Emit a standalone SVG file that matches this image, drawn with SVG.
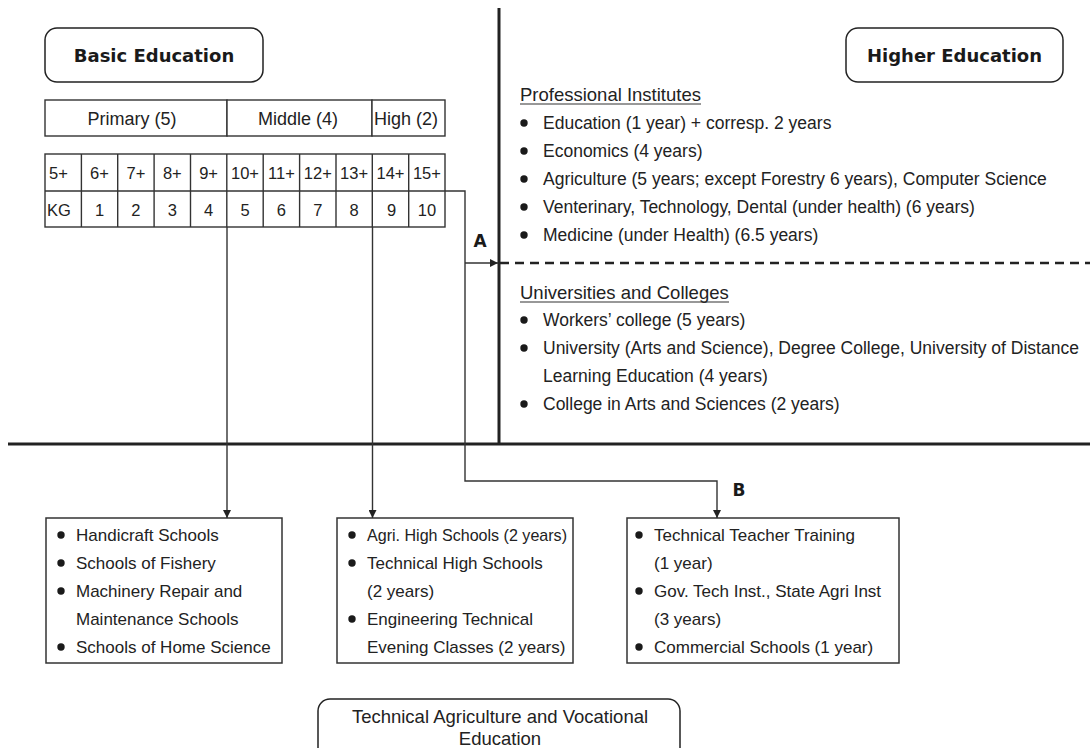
<svg xmlns="http://www.w3.org/2000/svg" width="1090" height="748" viewBox="0 0 1090 748">
<style>
  .bg{fill:#ffffff}
  .hdr{fill:#fff;stroke:#222;stroke-width:1.5}
  .cell{fill:#fff;stroke:#333;stroke-width:1.4}
  .box{fill:#fff;stroke:#333;stroke-width:1.5}
  .thick{stroke:#222;stroke-width:3;fill:none}
  .dash{stroke:#222;stroke-width:2.5;stroke-dasharray:9 6;fill:none}
  .conn{stroke:#333;stroke-width:1.4;fill:none}
  .ttl{font-family:"DejaVu Sans",sans-serif;font-weight:bold;font-size:18px;fill:#1a1a1a}
  .lbl{font-family:"DejaVu Sans",sans-serif;font-weight:bold;font-size:17px;fill:#1a1a1a}
  .t18{font-family:"Liberation Sans",Arial,sans-serif;font-size:18px;fill:#222}
  .t16{font-family:"Liberation Sans",Arial,sans-serif;font-size:16.5px;fill:#222}
  .t17{font-family:"Liberation Sans",Arial,sans-serif;font-size:17px;fill:#222}
  .tr{font-family:"Liberation Sans",Arial,sans-serif;font-size:17.5px;fill:#222}
  .sub{font-family:"Liberation Sans",Arial,sans-serif;font-size:18.5px;fill:#222}
  .dot{fill:#1a1a1a}
  .ul{stroke:#333;stroke-width:1.2}
</style>
<defs>
  <marker id="arr" viewBox="0 0 10 10" refX="10" refY="5" markerWidth="9" markerHeight="8" markerUnits="userSpaceOnUse" orient="auto">
    <path d="M0,0 L10,5 L0,10 Z" fill="#222"/>
  </marker>
</defs>
<rect class="bg" x="0" y="0" width="1090" height="748"/>

<!-- dividers -->
<g id="dividers">
  <line class="thick" x1="499" y1="8" x2="499" y2="444"/>
  <line class="thick" x1="8" y1="444" x2="1090" y2="444"/>
  <line class="dash" x1="500" y1="263" x2="1090" y2="263"/>
</g>

<!-- Basic Education -->
<g id="basic-education">
  <rect class="hdr" x="45" y="28" width="218" height="54" rx="12" ry="12"/>
  <text class="ttl" x="154" y="62" text-anchor="middle">Basic Education</text>
</g>

<!-- Higher Education -->
<g id="higher-education">
  <rect class="hdr" x="846" y="28" width="217" height="54" rx="12" ry="12"/>
  <text class="ttl" x="954.5" y="62" text-anchor="middle">Higher Education</text>
</g>

<!-- Stage table -->
<g id="stage-table">
  <rect class="cell" x="45" y="100" width="182" height="36"/>
  <rect class="cell" x="227" y="100" width="145" height="36"/>
  <rect class="cell" x="372" y="100" width="73" height="36"/>
  <text class="t18" x="132" y="124.5" text-anchor="middle">Primary (5)</text>
  <text class="t18" x="298" y="124.5" text-anchor="middle">Middle (4)</text>
  <text class="t18" x="374" y="124.5">High (2)</text>
</g>

<!-- Age / grade table -->
<g id="age-table">
  <rect class="cell" x="45" y="154" width="400" height="73"/>
  <line class="cell" x1="45" y1="191" x2="445" y2="191"/>
  <line class="cell" x1="81.4" y1="154" x2="81.4" y2="227"/>
  <line class="cell" x1="117.7" y1="154" x2="117.7" y2="227"/>
  <line class="cell" x1="154.1" y1="154" x2="154.1" y2="227"/>
  <line class="cell" x1="190.5" y1="154" x2="190.5" y2="227"/>
  <line class="cell" x1="226.8" y1="154" x2="226.8" y2="227"/>
  <line class="cell" x1="263.2" y1="154" x2="263.2" y2="227"/>
  <line class="cell" x1="299.6" y1="154" x2="299.6" y2="227"/>
  <line class="cell" x1="336" y1="154" x2="336" y2="227"/>
  <line class="cell" x1="372.3" y1="154" x2="372.3" y2="227"/>
  <line class="cell" x1="408.7" y1="154" x2="408.7" y2="227"/>
  <g class="t16">
    <text x="49" y="179">5+</text>
    <text x="99.5" y="179" text-anchor="middle">6+</text>
    <text x="135.9" y="179" text-anchor="middle">7+</text>
    <text x="172.3" y="179" text-anchor="middle">8+</text>
    <text x="208.6" y="179" text-anchor="middle">9+</text>
    <text x="245" y="179" text-anchor="middle">10+</text>
    <text x="281.4" y="179" text-anchor="middle">11+</text>
    <text x="317.8" y="179" text-anchor="middle">12+</text>
    <text x="354.1" y="179" text-anchor="middle">13+</text>
    <text x="390.5" y="179" text-anchor="middle">14+</text>
    <text x="426.9" y="179" text-anchor="middle">15+</text>
    <text x="47" y="216">KG</text>
    <text x="99.5" y="216" text-anchor="middle">1</text>
    <text x="135.9" y="216" text-anchor="middle">2</text>
    <text x="172.3" y="216" text-anchor="middle">3</text>
    <text x="208.6" y="216" text-anchor="middle">4</text>
    <text x="245" y="216" text-anchor="middle">5</text>
    <text x="281.4" y="216" text-anchor="middle">6</text>
    <text x="317.8" y="216" text-anchor="middle">7</text>
    <text x="354.1" y="216" text-anchor="middle">8</text>
    <text x="391.5" y="216" text-anchor="middle">9</text>
    <text x="426.9" y="216" text-anchor="middle">10</text>
  </g>
</g>

<!-- Professional Institutes -->
<g id="professional-institutes">
  <text class="sub" x="520" y="101">Professional Institutes</text>
  <line class="ul" x1="520" y1="104" x2="701" y2="104"/>
  <circle class="dot" cx="524" cy="123" r="3.7"/>
  <text class="tr" x="543" y="129">Education (1 year) + corresp. 2 years</text>
  <circle class="dot" cx="524" cy="151" r="3.7"/>
  <text class="tr" x="543" y="157">Economics (4 years)</text>
  <circle class="dot" cx="524" cy="179" r="3.7"/>
  <text class="tr" x="543" y="185">Agriculture (5 years; except Forestry 6 years), Computer Science</text>
  <circle class="dot" cx="524" cy="207" r="3.7"/>
  <text class="tr" x="543" y="213">Venterinary, Technology, Dental (under health) (6 years)</text>
  <circle class="dot" cx="524" cy="235" r="3.7"/>
  <text class="tr" x="543" y="241">Medicine (under Health) (6.5 years)</text>
</g>

<!-- Universities and Colleges -->
<g id="universities-colleges">
  <text class="sub" x="520" y="298.5">Universities and Colleges</text>
  <line class="ul" x1="520" y1="302" x2="729" y2="302"/>
  <circle class="dot" cx="524" cy="320" r="3.7"/>
  <text class="tr" x="543" y="326">Workers’ college (5 years)</text>
  <circle class="dot" cx="524" cy="348" r="3.7"/>
  <text class="tr" x="543" y="354">University (Arts and Science), Degree College, University of Distance</text>
  <text class="tr" x="543" y="382">Learning Education (4 years)</text>
  <circle class="dot" cx="524" cy="404" r="3.7"/>
  <text class="tr" x="543" y="410">College in Arts and Sciences (2 years)</text>
</g>

<!-- Box 1 -->
<g id="box-vocational-schools">
  <rect class="box" x="46" y="518" width="236" height="145"/>
  <circle class="dot" cx="61" cy="535" r="3.7"/>
  <text class="t17" x="76" y="541">Handicraft Schools</text>
  <circle class="dot" cx="61" cy="563" r="3.7"/>
  <text class="t17" x="76" y="569">Schools of Fishery</text>
  <circle class="dot" cx="61" cy="591" r="3.7"/>
  <text class="t17" x="76" y="597">Machinery Repair and</text>
  <text class="t17" x="76" y="625">Maintenance Schools</text>
  <circle class="dot" cx="61" cy="647" r="3.7"/>
  <text class="t17" x="76" y="653">Schools of Home Science</text>
</g>

<!-- Box 2 -->
<g id="box-high-schools">
  <rect class="box" x="337" y="518" width="236" height="145"/>
  <circle class="dot" cx="352" cy="535" r="3.7"/>
  <text class="t17" x="367" y="541" textLength="200" lengthAdjust="spacingAndGlyphs">Agri. High Schools (2 years)</text>
  <circle class="dot" cx="352" cy="563" r="3.7"/>
  <text class="t17" x="367" y="569">Technical High Schools</text>
  <text class="t17" x="367" y="597">(2 years)</text>
  <circle class="dot" cx="352" cy="619" r="3.7"/>
  <text class="t17" x="367" y="625">Engineering Technical</text>
  <text class="t17" x="367" y="653">Evening Classes (2 years)</text>
</g>

<!-- Box 3 -->
<g id="box-technical-institutes">
  <rect class="box" x="627" y="518" width="272" height="145"/>
  <circle class="dot" cx="639" cy="535" r="3.7"/>
  <text class="t17" x="654" y="541">Technical Teacher Training</text>
  <text class="t17" x="654" y="569">(1 year)</text>
  <circle class="dot" cx="639" cy="591" r="3.7"/>
  <text class="t17" x="654" y="597">Gov. Tech Inst., State Agri Inst</text>
  <text class="t17" x="654" y="625">(3 years)</text>
  <circle class="dot" cx="639" cy="647" r="3.7"/>
  <text class="t17" x="654" y="653">Commercial Schools (1 year)</text>
</g>

<!-- Bottom title -->
<g id="technical-vocational">
  <rect class="hdr" x="318" y="699" width="362" height="70" rx="12" ry="12"/>
  <text class="sub" x="500" y="722.5" text-anchor="middle">Technical Agriculture and Vocational</text>
  <text class="sub" x="500" y="744.5" text-anchor="middle">Education</text>
</g>

<!-- Connectors -->
<g id="connectors">
  <line class="conn" x1="227" y1="227" x2="227" y2="518" marker-end="url(#arr)"/>
  <line class="conn" x1="372.5" y1="227" x2="372.5" y2="518" marker-end="url(#arr)"/>
  <polyline class="conn" points="445,191 465,191 465,481 717,481 717,518" marker-end="url(#arr)"/>
  <line class="conn" x1="465" y1="263" x2="498" y2="263" marker-end="url(#arr)"/>
  <text class="lbl" x="480" y="247" text-anchor="middle">A</text>
  <text class="lbl" x="739" y="496" text-anchor="middle">B</text>
</g>
</svg>
